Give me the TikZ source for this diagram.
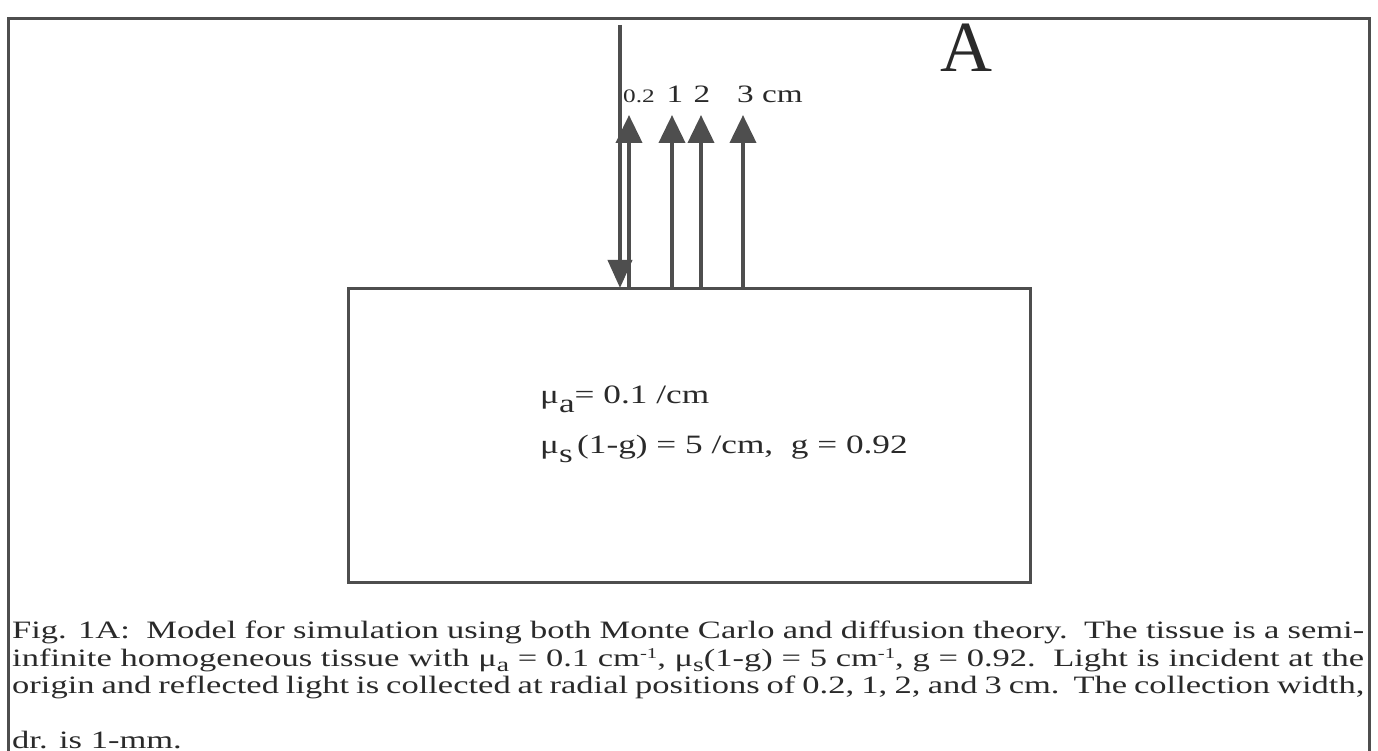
\documentclass[tikz,border=0pt]{standalone}
\usepackage{fontspec}
\setmainfont{Liberation Serif}
\newfontfamily\capfont[FakeStretch=1.38]{Liberation Serif}
\newfontfamily\lblfont[FakeStretch=1.33]{Liberation Serif}
\usetikzlibrary{arrows.meta}
\definecolor{ink}{HTML}{4E4E4E}
\definecolor{txt}{HTML}{2A2A2A}
\newcommand{\capsub}[1]{\raisebox{-5pt}{\fontsize{20}{20}\selectfont #1}}
\newcommand{\capsup}[1]{\raisebox{8pt}{\fontsize{15}{15}\selectfont #1}}
\newcommand{\bigsub}[1]{\raisebox{-9pt}{#1}}
\begin{document}
\begin{tikzpicture}[x=1pt,y=-1pt,
  framestyle/.style={line width=3pt, draw=ink},
  tissuebox/.style={draw=ink, line width=3pt, minimum width=682pt, minimum height=294pt, inner sep=0pt, outer sep=0pt},
  upray/.style={line width=4pt, draw=ink, -{Triangle[width=26pt,length=28pt]}},
  downray/.style={line width=4pt, draw=ink, -{Triangle[width=24pt,length=28pt]}},
  lbl/.style={anchor=base west, inner sep=0pt, text=txt, font=\lblfont\fontsize{25}{25}\selectfont},
  proplbl/.style={anchor=base west, inner sep=0pt, text=txt, font=\lblfont\fontsize{26.5}{26.5}\selectfont},
  caplbl/.style={anchor=base west, inner sep=0pt, text=txt, font=\capfont\fontsize{25}{25}\selectfont}]
\useasboundingbox (0,0) rectangle (1378,751);
\clip (0,0) rectangle (1378,751);
\fill[white] (0,0) rectangle (1378,751);
% outer frame
\draw[framestyle] (8,770) -- (8,19) -- (1369,19) -- (1369,770);
% tissue block
\node[tissuebox] (tissue) at (689,435) {};
% arrows
\coordinate (src) at (620,25);
\coordinate (r02) at (629,115);
\coordinate (r1) at (672,115);
\coordinate (r2) at (701,115);
\coordinate (r3) at (743,115);
\draw[downray] (src) -- (src |- tissue.north);
\draw[upray] (r02 |- tissue.north) -- (r02);
\draw[upray] (r1 |- tissue.north) -- (r1);
\draw[upray] (r2 |- tissue.north) -- (r2);
\draw[upray] (r3 |- tissue.north) -- (r3);
% radial labels
\node[lbl, font=\lblfont\fontsize{19}{19}\selectfont] (l02) at (623,103) {0.2};
\node[lbl, anchor=base] (l1) at (675,103) {1};
\node[lbl, anchor=base] (l2) at (702,103) {2};
\node[lbl] (l3) at (737,103) {3 cm};
% panel letter
\node[lbl, font=\fontsize{72}{72}\selectfont] (panel) at (940,72) {A};
% optical properties
\node[proplbl] (mua) at (540,403) {μ\bigsub{a}= 0.1 /cm};
\node[proplbl] (mus) at (540,453) {μ\bigsub{s}\,(1-g) = 5 /cm,\ \ g = 0.92};
% caption
\node[caplbl] (cap1) at (12,638) {\makebox[1352pt][s]{Fig. 1A:\ \ Model for simulation using both Monte Carlo and diffusion theory.\ \ The tissue is a semi-}};
\node[caplbl] (cap2) at (12,666) {\makebox[1352pt][s]{infinite homogeneous tissue with μ\capsub{a} = 0.1 cm\capsup{-1}, μ\capsub{s}(1-g) = 5 cm\capsup{-1}, g = 0.92.\ \ Light is incident at the}};
\node[caplbl] (cap3) at (12,693) {\makebox[1352pt][s]{origin and reflected light is collected at radial positions of 0.2, 1, 2, and 3 cm.\ \ The collection width,}};
\node[caplbl] (cap4) at (12,748) {dr. is 1-mm.};
\end{tikzpicture}
\end{document}
